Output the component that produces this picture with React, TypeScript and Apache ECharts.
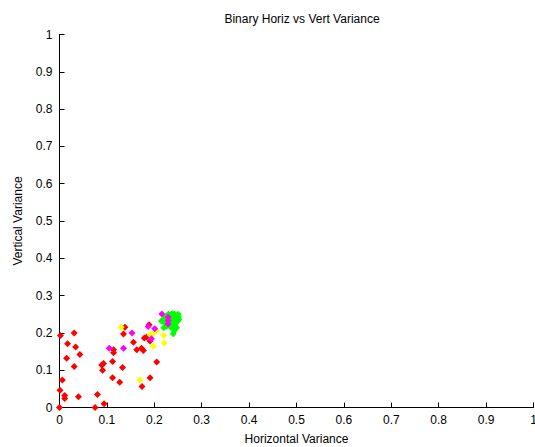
import React, { useEffect, useRef } from "react";
import * as echarts from "echarts";

const titleText = "Binary Horiz vs Vert Variance";
const xName = "Horizontal Variance";
const yName = "Vertical Variance";

const redPoints: [number, number][] = [
  [0.002, 0.193], [0.031, 0.2], [0.017, 0.171], [0.034, 0.162], [0.043, 0.142],
  [0.015, 0.132], [0.031, 0.11], [0.006, 0.074], [0.001, 0.046], [0.011, 0.032],
  [0.011, 0.024], [0.04, 0.029], [0.08, 0.035], [0.094, 0.01], [0.0, 0.0],
  [0.075, 0.0], [0.089, 0.114], [0.093, 0.118], [0.091, 0.1], [0.112, 0.123],
  [0.133, 0.107], [0.127, 0.068], [0.112, 0.08], [0.114, 0.155], [0.114, 0.147],
  [0.138, 0.215], [0.135, 0.197], [0.156, 0.175], [0.163, 0.155], [0.173, 0.159],
  [0.177, 0.153], [0.174, 0.056], [0.191, 0.08], [0.205, 0.122], [0.179, 0.186],
  [0.184, 0.189], [0.189, 0.222], [0.191, 0.178],
];

const greenPoints: [number, number][] = [
  [0.215, 0.232], [0.22, 0.238], [0.222, 0.228], [0.225, 0.245], [0.228, 0.235],
  [0.23, 0.25], [0.232, 0.24], [0.233, 0.228], [0.235, 0.247], [0.236, 0.236],
  [0.238, 0.252], [0.238, 0.222], [0.24, 0.243], [0.241, 0.232], [0.242, 0.206],
  [0.243, 0.25], [0.244, 0.238], [0.245, 0.226], [0.246, 0.246], [0.247, 0.214],
  [0.248, 0.24], [0.249, 0.232], [0.25, 0.25], [0.251, 0.243], [0.252, 0.236],
  [0.226, 0.218], [0.22, 0.214], [0.24, 0.198], [0.235, 0.215], [0.244, 0.218],
];

const yellowPoints: [number, number][] = [
  [0.13, 0.215], [0.17, 0.074], [0.191, 0.195], [0.196, 0.197], [0.198, 0.164],
  [0.205, 0.206], [0.22, 0.193], [0.221, 0.173],
];

const magentaPoints: [number, number][] = [
  [0.105, 0.159], [0.135, 0.159], [0.153, 0.2], [0.187, 0.217], [0.194, 0.184],
  [0.201, 0.211], [0.216, 0.251], [0.229, 0.242], [0.229, 0.233], [0.229, 0.224],
];

const axisTicks = [0, 0.1, 0.2, 0.3, 0.4, 0.5, 0.6, 0.7, 0.8, 0.9, 1];

const font = "'Liberation Sans', Arial, Helvetica, sans-serif";

function axisCommon(name: string, nameGap: number, margin: number) {
  return {
    type: "value" as const,
    min: 0,
    max: 1,
    interval: 0.1,
    name,
    nameLocation: "middle" as const,
    nameGap,
    nameTextStyle: { fontFamily: font, fontSize: 12, color: "#000" },
    axisLine: { show: true, lineStyle: { color: "#000", width: 1 } },
    axisTick: { show: true, inside: true, length: 5, lineStyle: { color: "#000" } },
    splitLine: { show: false },
    axisLabel: {
      fontFamily: font,
      fontSize: 12,
      color: "#000",
      margin,
      formatter: (v: number) => {
        const found = axisTicks.find((t) => Math.abs(t - v) < 1e-9);
        return String(found !== undefined ? found : v);
      },
    },
  };
}

export default function App() {
  const ref = useRef<HTMLDivElement>(null);
  useEffect(() => {
    if (!ref.current) return;
    const chart = echarts.init(ref.current, null, { renderer: "svg" });
    const mk = (data: [number, number][], color: string) => ({
      type: "scatter" as const,
      data,
      symbol: "diamond",
      symbolSize: 7,
      itemStyle: { color, opacity: 1 },
      emphasis: { disabled: true },
    });
    chart.setOption({
      animation: false,
      backgroundColor: "#fff",
      title: {
        text: titleText,
        left: 297,
        top: 8,
        textAlign: "center",
        textStyle: { fontFamily: font, fontSize: 12, fontWeight: "normal", color: "#000" },
      },
      grid: {
        left: 59.5,
        right: 1.5,
        top: 34.5,
        bottom: 39.5,
        containLabel: false,
        outerBoundsMode: "none",
      },
      xAxis: axisCommon(xName, 25, 6),
      yAxis: axisCommon(yName, 36, 7),
      series: [
        mk(redPoints, "#ff0000"),
        mk(greenPoints, "#00ff00"),
        mk(yellowPoints, "#ffff00"),
        mk(magentaPoints, "#ff00ff"),
      ],
    });
    return () => chart.dispose();
  }, []);
  return (
    <div
      ref={ref}
      style={{ position: "fixed", left: 0, top: 0, width: 535, height: 447, background: "#fff" }}
    />
  );
}
